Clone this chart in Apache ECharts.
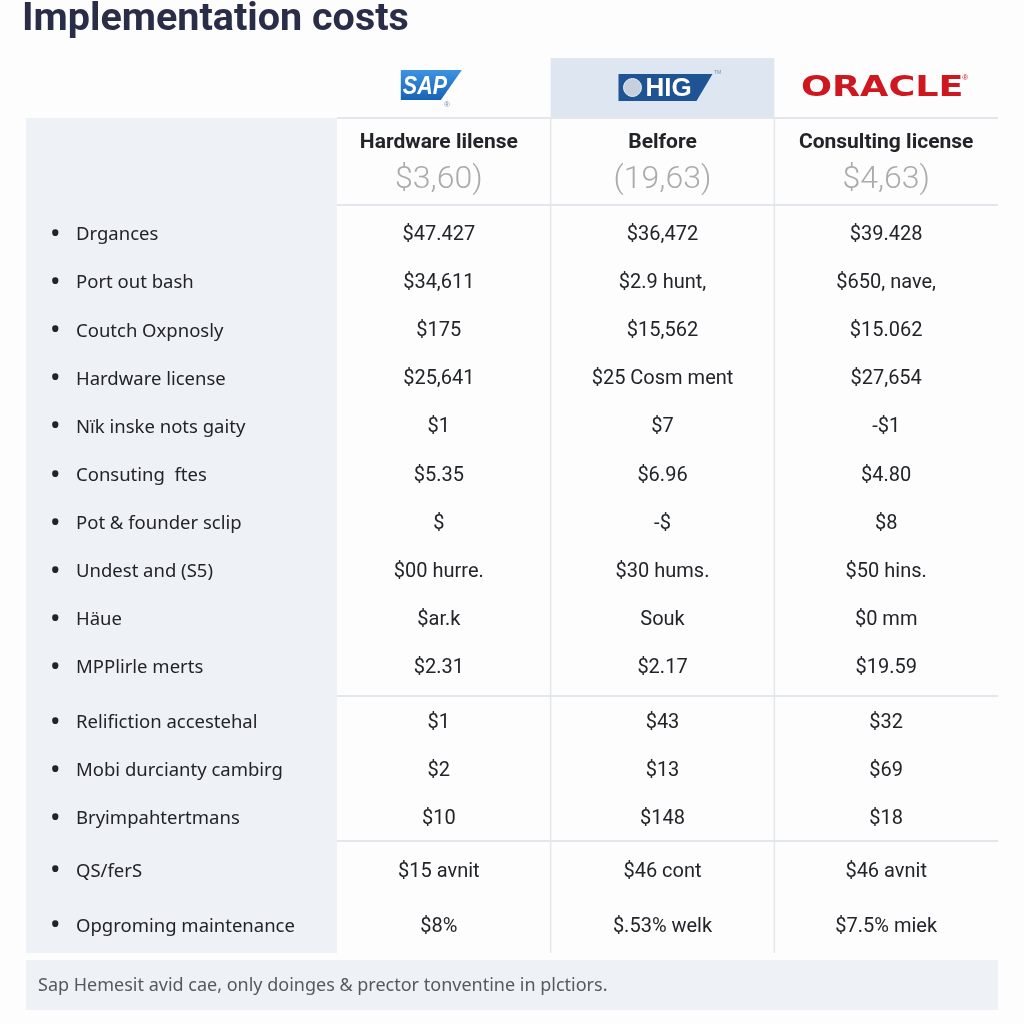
<!DOCTYPE html>
<html>
<head>
<meta charset="utf-8">
<script src="https://cdn.jsdelivr.net/npm/echarts@6/dist/echarts.min.js"></script>
<style>
html,body{margin:0;padding:0;background:#fdfdfe;}
#c{width:1024px;height:1024px;}
</style>
</head>
<body>
<div id="c"></div>
<script>
// ---------------- data ----------------
const chartTitle = 'Implementation costs';
const providers = ['SAP', 'HIG', 'ORACLE'];
const highlightedProvider = 'HIG';
const headerNames = ['Hardware lilense', 'Belfore', 'Consulting license'];
const headerTotals = ['$3,60)', '(19,63)', '$4,63)'];
const costItems = [
  'Drgances', 'Port out bash', 'Coutch Oxpnosly', 'Hardware license',
  'Nïk inske nots gaity', 'Consuting  ftes', 'Pot & founder sclip',
  'Undest and (S5)', 'Häue', 'MPPlirle merts',
  'Relifiction accestehal', 'Mobi durcianty cambirg', 'Bryimpahtertmans',
  'QS/ferS', 'Opgroming maintenance'
];
const sapValues = ['$47.427', '$34,611', '$175', '$25,641', '$1', '$5.35', '$',
  '$00 hurre.', '$ar.k', '$2.31', '$1', '$2', '$10', '$15 avnit', '$8%'];
const higValues = ['$36,472', '$2.9 hunt,', '$15,562', '$25 Cosm ment', '$7', '$6.96', '-$',
  '$30 hums.', 'Souk', '$2.17', '$43', '$13', '$148', '$46 cont', '$.53% welk'];
const oracleValues = ['$39.428', '$650, nave,', '$15.062', '$27,654', '-$1', '$4.80', '$8',
  '$50 hins.', '$0 mm', '$19.59', '$32', '$69', '$18', '$46 avnit', '$7.5% miek'];
const sectionSizes = [10, 3, 2];
const footnote = 'Sap Hemesit avid cae, only doinges & prector tonventine in plctiors.';

// ---------------- layout / style ----------------
const TABLE_LEFT = 327, TABLE_RIGHT = 26;
const HEADER_TOP = 58, LOGO_BAND = 60, HEADER_H = 147;
const TABLE_BOTTOM = 953;
const SECTION_TOPS = [208, 696, 841];
const SECTION_HEIGHTS = [481, 144, 110];
const PANEL_RIGHT = 337;
const TEXT_DY = 3;
const LINE_COLOR = '#e3e7eb';
const TEXT_COLOR = '#222428';
const VALUE_FONT = 'Roboto, "Liberation Sans", sans-serif';
const LABEL_FONT = '"Noto Sans", "Open Sans", sans-serif';

const valueColumns = [sapValues, higValues, oracleValues];

const chart = echarts.init(document.getElementById('c'), null, {renderer: 'canvas'});

function drawLogo(name, cx, cy) {
  if (name === 'SAP') {
    return [
      {type: 'polygon', shape: {points: [[cx - 38, cy - 16], [cx + 23, cy - 16], [cx + 2, cy + 14], [cx - 38, cy + 14]]},
        style: {fill: new echarts.graphic.LinearGradient(0, 0, 0, 1, [{offset: 0, color: '#3d93e2'}, {offset: 1, color: '#1662b6'}])}},
      {type: 'text', x: cx - 36, y: cy + 1, scaleX: 0.86,
        style: {text: 'SAP', fill: '#ffffff', font: 'italic bold 25px "Liberation Sans", Arial, sans-serif', align: 'left', verticalAlign: 'middle'}},
      {type: 'text', x: cx + 8, y: cy + 19,
        style: {text: '®', fill: '#6f8fb5', font: '8px sans-serif', align: 'center', verticalAlign: 'middle'}}
    ];
  }
  if (name === 'HIG') {
    return [
      {type: 'polygon', shape: {points: [[cx - 44, cy - 12], [cx + 50, cy - 12], [cx + 34, cy + 15], [cx - 44, cy + 15]]},
        style: {fill: '#1e5394'}},
      {type: 'circle', shape: {cx: cx - 30, cy: cy + 1.5, r: 9}, style: {fill: '#c6d0dc', stroke: '#e8eef5', lineWidth: 1}},
      {type: 'text', x: cx - 17, y: cy + 3,
        style: {text: 'HIG', fill: '#ffffff', font: 'bold 26px "Liberation Sans", Arial, sans-serif', align: 'left', verticalAlign: 'middle'}},
      {type: 'text', x: cx + 55, y: cy - 13,
        style: {text: 'TM', fill: '#7a8da6', font: '5px sans-serif', align: 'center', verticalAlign: 'middle'}}
    ];
  }
  return [
    {type: 'text', x: cx - 4, y: cy + 2, scaleX: 1.26,
      style: {text: 'ORACLE', fill: '#cd1820', font: 'bold 29px "DejaVu Sans", sans-serif', align: 'center', verticalAlign: 'middle'}},
    {type: 'text', x: cx + 79, y: cy - 8,
      style: {text: '®', fill: '#cd1820', font: '8px sans-serif', align: 'center', verticalAlign: 'middle'}}
  ];
}

function headerItem(params, api) {
  const i = api.value(0);
  const cs = params.coordSys;
  const cx = api.coord([i, 0])[0];
  const w = api.size([1, 0])[0];
  const x0 = cx - w / 2;
  const xs = x0 + (i === 0 ? PANEL_RIGHT - TABLE_LEFT : 0);
  const top = cs.y;
  const bandBottom = cs.y + LOGO_BAND;
  const bottom = cs.y + cs.height;
  const name = providers[i];
  const children = [];
  if (name === highlightedProvider) {
    children.push({type: 'rect', shape: {x: x0, y: top, width: w, height: LOGO_BAND}, style: {fill: '#dee7f1'}});
  }
  children.push({type: 'line', shape: {x1: xs, y1: bandBottom, x2: x0 + w, y2: bandBottom},
    style: {stroke: LINE_COLOR, lineWidth: 2}});
  children.push({type: 'line', shape: {x1: xs, y1: bottom, x2: x0 + w, y2: bottom},
    style: {stroke: LINE_COLOR, lineWidth: 2}});
  if (i > 0) {
    children.push({type: 'line', shape: {x1: x0, y1: bandBottom, x2: x0, y2: TABLE_BOTTOM}, style: {stroke: LINE_COLOR, lineWidth: 1.5}});
  }
  children.push({type: 'text', x: cx, y: bandBottom + 25,
    style: {text: headerNames[i], fill: TEXT_COLOR, font: 'bold 21px ' + VALUE_FONT, align: 'center', verticalAlign: 'middle'}});
  children.push({type: 'text', x: cx, y: bandBottom + 62,
    style: {text: headerTotals[i], fill: '#ababab', font: '300 32px ' + VALUE_FONT, align: 'center', verticalAlign: 'middle'}});
  drawLogo(name, cx, top + 28).forEach(c => children.push(c));
  return {type: 'group', children};
}

function cellItem(params, api) {
  const col = api.value(0), row = api.value(1), gIdx = api.value(2);
  const c = api.coord([col, row]);
  const sz = api.size([1, 1]);
  const w = sz[0], h = sz[1];
  const x0 = c[0] - w / 2;
  const children = [];
  if (row === 0 && gIdx > 0) {
    const yTop = params.coordSys.y;
    children.push({type: 'line', shape: {x1: x0 + (col === 0 ? PANEL_RIGHT - TABLE_LEFT : 0), y1: yTop, x2: x0 + w, y2: yTop},
      style: {stroke: LINE_COLOR, lineWidth: 2}});
  }
  children.push({type: 'text', x: c[0], y: c[1] + TEXT_DY,
    style: {text: valueColumns[col][gIdx], fill: TEXT_COLOR, font: '20px ' + VALUE_FONT, align: 'center', verticalAlign: 'middle'}});
  return {type: 'group', children};
}

// build grids / axes / series
const grids = [{left: TABLE_LEFT, right: TABLE_RIGHT, top: HEADER_TOP, height: HEADER_H}];
const xAxes = [{type: 'category', gridIndex: 0, data: providers, show: false}];
const yAxes = [{type: 'value', gridIndex: 0, min: 0, max: 1, show: false}];
const series = [{
  type: 'custom', xAxisIndex: 0, yAxisIndex: 0, renderItem: headerItem,
  data: providers.map((p, i) => [i, 0]), silent: true, z: 3
}];

let start = 0;
sectionSizes.forEach((n, s) => {
  const gi = s + 1;
  const items = costItems.slice(start, start + n);
  grids.push({left: TABLE_LEFT, right: TABLE_RIGHT, top: SECTION_TOPS[s], height: SECTION_HEIGHTS[s]});
  xAxes.push({type: 'category', gridIndex: gi, data: providers, show: false});
  yAxes.push({
    type: 'category', gridIndex: gi, data: items, inverse: true,
    axisLine: {show: false}, axisTick: {show: false}, splitLine: {show: false},
    axisLabel: {
      align: 'left', margin: TABLE_LEFT - 50,
      padding: [TEXT_DY * 2, 0, 0, 0],
      formatter: v => '{b|•}{t|' + v + '}',
      rich: {
        b: {fontSize: 28, color: TEXT_COLOR, width: 26, fontFamily: LABEL_FONT},
        t: {fontSize: 18.5, color: TEXT_COLOR, fontFamily: LABEL_FONT}
      }
    }
  });
  const data = [];
  for (let r = 0; r < n; r++) {
    for (let c = 0; c < providers.length; c++) data.push([c, r, start + r]);
  }
  series.push({type: 'custom', xAxisIndex: gi, yAxisIndex: gi, renderItem: cellItem, data, silent: true});
  start += n;
});

chart.setOption({
  backgroundColor: '#fdfdfe',
  animation: false,
  title: {
    text: chartTitle, left: 17, top: -5,
    textStyle: {fontSize: 39.5, fontWeight: 'bold', color: '#2a2d47', fontFamily: VALUE_FONT}
  },
  graphic: [
    {type: 'rect', z: -10, shape: {x: 26, y: HEADER_TOP + LOGO_BAND, width: PANEL_RIGHT - 26, height: TABLE_BOTTOM - HEADER_TOP - LOGO_BAND},
      style: {fill: '#eef2f7'}},
    {type: 'rect', z: -10, shape: {x: 26, y: 960, width: 1024 - 26 - TABLE_RIGHT, height: 50}, style: {fill: '#eef2f6'}},
    {type: 'text', z: -5, x: 38, y: 986,
      style: {text: footnote, fill: '#55595f', font: '18px ' + LABEL_FONT, verticalAlign: 'middle'}}
  ],
  grid: grids,
  xAxis: xAxes,
  yAxis: yAxes,
  series
});
</script>
</body>
</html>
